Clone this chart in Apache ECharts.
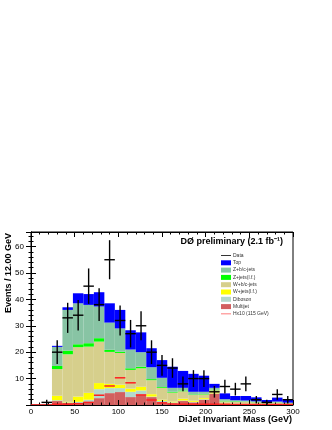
<!DOCTYPE html>
<html>
<head>
<meta charset="utf-8">
<script src="https://cdn.jsdelivr.net/npm/echarts@6/dist/echarts.min.js"></script>
<style>
  html, body { margin: 0; padding: 0; background: #fff; }
  #chart { width: 332px; height: 430px; }
</style>
</head>
<body>
<div id="chart"></div>
<script>
// bins of 12 GeV, 0 - 300
const binCenters = [6, 18, 30, 42, 54, 66, 78, 90, 102, 114, 126, 138, 150, 162, 174, 186, 198, 210, 222, 234, 246, 258, 270, 282, 294];
const binLabels = binCenters.map(c => String(c));

// data points
const dataCounts = [0, 1, 20, 33, 34, 45, 38, 55, 32, 27, 30, 20, 15, 14, 8, 10, 10, 5, 7, 6, 8, 2, 1, 4, 2];
const dataErrors = [0, 1.0, 4.5, 5.7, 5.8, 6.7, 6.2, 7.4, 5.7, 5.2, 5.5, 4.5, 3.9, 3.7, 2.8, 3.2, 3.2, 2.2, 2.6, 2.4, 2.8, 1.4, 1.0, 2.0, 1.4];

// backgrounds, bottom to top of the stack
const multijet = [0, 0, 1.5, 0.8, 0.7, 1.0, 2.6, 4.5, 4.9, 3.0, 4.0, 3.0, 1.0, 0.5, 1.5, 1.0, 2.0, 4.3, 0.4, 0.3, 0.3, 0.2, 0.1, 0.2, 0.1];
const diboson = [0, 0, 0.3, 0.2, 0.5, 1.0, 3.4, 1.9, 1.5, 2.0, 1.5, 0.2, 0.6, 0.5, 0.2, 0.2, 0.2, 0.1, 0.2, 0.2, 0.2, 0.2, 0.1, 0.2, 0.1];
const wLight = [0, 0, 1.7, 0.2, 2.0, 2.6, 2.3, 1.6, 1.3, 1.2, 1.4, 0.9, 0.4, 0.3, 0.7, 0.4, 0.4, 0.4, 0.2, 0.1, 0.1, 0.1, 0.1, 0.1, 0.1];
const wHeavy = [0, 0, 10.1, 18.0, 18.7, 17.5, 15.7, 12.1, 12.0, 7.1, 7.0, 5.3, 4.5, 3.4, 2.8, 2.2, 1.4, 0.8, 0.6, 0.6, 0.6, 0.5, 0.3, 0.4, 0.3];
const zLight = [0, 0, 1.2, 1.4, 1.1, 1.3, 1.3, 0.8, 0.5, 0.6, 0.6, 0.4, 0.3, 0.3, 0.3, 0.2, 0.2, 0.2, 0.2, 0.2, 0.1, 0.1, 0.1, 0.1, 0.1];
const zHeavy = [0, 0, 7.2, 15.4, 15.5, 14.5, 12.0, 10.3, 8.8, 7.1, 5.5, 4.5, 3.5, 1.5, 1.0, 1.0, 0.8, 0.7, 0.6, 0.4, 0.4, 0.3, 0.2, 0.3, 0.2];
const topQuark = [0, 0, 0.4, 1.0, 3.8, 4.1, 5.4, 7.3, 7.0, 7.3, 7.5, 7.2, 6.7, 8.0, 6.4, 6.8, 6.1, 1.5, 2.2, 1.6, 1.7, 1.5, 1.0, 1.5, 1.0];

// signal x10
const higgsX10 = [0, 0, 0.3, 0.3, 0.5, 1.0, 3.7, 7.2, 10.3, 8.4, 3.8, 1.9, 0.8, 0.4, 0.3, 0.3, 0.3, 0.3, 0.3, 0.2, 0.2, 0.2, 0.2, 0.2, 0.2];

const xTicks = { min: 0, max: 300, interval: 50 };
const yTicks = { min: 0, max: 65.5, interval: 10 };
const binWidth = 12;

const chart = echarts.init(document.getElementById('chart'));

function stackBar(name, values, color) {
    return {
        name: name,
        type: 'bar',
        stack: 'bkg',
        xAxisIndex: 0,
        yAxisIndex: 0,
        barWidth: '100%',
        data: values,
        itemStyle: { color: color },
        z: 2,
        silent: true,
        animation: false
    };
}

const pointData = binCenters.map((c, i) => [c, dataCounts[i], dataErrors[i]]).filter(d => d[1] > 0);
const higgsData = binCenters.map((c, i) => [c, higgsX10[i]]);

const tickFont = { fontFamily: 'Liberation Sans', fontSize: 8, color: '#000' };

// 坐标轴公共设置
function valueAxis(pos, range, withLabels) {
    return {
        type: 'value', position: pos, min: range.min, max: range.max, interval: range.interval,
        axisLine: { show: true, lineStyle: { color: '#000' } },
        axisTick: { inside: true, length: 5, lineStyle: { color: '#000' } },
        minorTick: { show: true, splitNumber: 5, length: 2.5, lineStyle: { color: '#000' } },
        axisLabel: withLabels ? Object.assign({ showMaxLabel: false }, tickFont) : { show: false },
        splitLine: { show: false },
        z: 5
    };
}

const xBottom = valueAxis('bottom', xTicks, true);
xBottom.axisLabel.margin = 3;
xBottom.axisLabel.showMaxLabel = true;
const yLeft = valueAxis('left', yTicks, true);
yLeft.axisLabel.margin = 7;
yLeft.axisLabel.showMinLabel = false;

const option = {
    animation: false,
    title: {
        text: 'DØ preliminary (2.1 fb⁻¹)',
        right: 49,
        top: 237,
        padding: 0,
        textStyle: { fontFamily: 'Liberation Sans', fontSize: 9, fontWeight: 'bold', color: '#000' }
    },
    legend: {
        orient: 'vertical',
        left: 216,
        top: 248,
        itemWidth: 10,
        itemHeight: 5,
        itemGap: 2.3,
        selectedMode: false,
        textStyle: { fontFamily: 'Liberation Sans', fontSize: 5, color: '#333', lineHeight: 5, padding: [0, 0, 0, -3] },
        data: [
            { name: 'Data', icon: 'path://M0,0 L20,0 L20,1.6 L0,1.6 Z' },
            { name: 'Top', icon: 'rect' },
            { name: 'Z+b/c-jets', icon: 'rect' },
            { name: 'Z+jets(l.f.)', icon: 'rect' },
            { name: 'W+b/c-jets', icon: 'rect' },
            { name: 'W+jets(l.f.)', icon: 'rect' },
            { name: 'Diboson', icon: 'rect' },
            { name: 'Multijet', icon: 'rect' },
            { name: 'Hx10 (115 GeV)', icon: 'path://M0,0 L20,0 L20,1.2 L0,1.2 Z' }
        ]
    },
    grid: { left: 31, right: 39, top: 232, bottom: 25, show: true, borderColor: '#000', borderWidth: 1 },
    xAxis: [
        { type: 'category', data: binLabels, show: false, boundaryGap: true },
        xBottom,
        valueAxis('top', xTicks, false)
    ],
    yAxis: [
        yLeft,
        valueAxis('right', yTicks, false)
    ],
    graphic: [
        {
            type: 'text', x: 9, y: 233, rotation: Math.PI / 2,
            style: { text: 'Events / 12.00 GeV', fontFamily: 'Liberation Sans', fontSize: 9, fontWeight: 'bold', fill: '#000', align: 'right', verticalAlign: 'middle' }
        },
        {
            type: 'text', x: 292, y: 420,
            style: { text: 'DiJet Invariant Mass (GeV)', fontFamily: 'Liberation Sans', fontSize: 9, fontWeight: 'bold', fill: '#000', align: 'right', verticalAlign: 'middle' }
        }
    ],
    series: [
        stackBar('Multijet', multijet, '#d25f5f'),
        stackBar('Diboson', diboson, '#b3d8cc'),
        stackBar('W+jets(l.f.)', wLight, '#ffff00'),
        stackBar('W+b/c-jets', wHeavy, '#d6cf8c'),
        stackBar('Z+jets(l.f.)', zLight, '#00ff00'),
        stackBar('Z+b/c-jets', zHeavy, '#88c4a4'),
        stackBar('Top', topQuark, '#0000ff'),
        {
            name: 'Hx10 (115 GeV)',
            type: 'custom',
            xAxisIndex: 1,
            yAxisIndex: 0,
            clip: true,
            z: 8,
            itemStyle: { color: '#ff2020' },
            data: higgsData,
            renderItem: function (params, api) {
                const c = api.value(0), v = api.value(1);
                const p1 = api.coord([c - binWidth / 2, v]);
                const p2 = api.coord([c + binWidth / 2, v]);
                return {
                    type: 'line',
                    z2: 10,
                    shape: { x1: p1[0], y1: p1[1], x2: p2[0], y2: p2[1] },
                    style: { stroke: '#ff2020', lineWidth: 1.5 }
                };
            }
        },
        {
            name: 'Data',
            type: 'custom',
            xAxisIndex: 1,
            yAxisIndex: 0,
            clip: true,
            z: 9,
            itemStyle: { color: '#000' },
            data: pointData,
            renderItem: function (params, api) {
                const c = api.value(0), v = api.value(1), e = api.value(2);
                const left = api.coord([c - binWidth / 2, v]);
                const right = api.coord([c + binWidth / 2, v]);
                const lo = api.coord([c, Math.max(v - e, 0)]);
                const hi = api.coord([c, v + e]);
                const st = { stroke: '#000', lineWidth: 1.4 };
                return {
                    type: 'group',
                    children: [
                        { type: 'line', shape: { x1: left[0], y1: left[1], x2: right[0], y2: right[1] }, style: st },
                        { type: 'line', shape: { x1: lo[0], y1: lo[1], x2: hi[0], y2: hi[1] }, style: st }
                    ]
                };
            }
        }
    ]
};

chart.setOption(option);
</script>
</body>
</html>
